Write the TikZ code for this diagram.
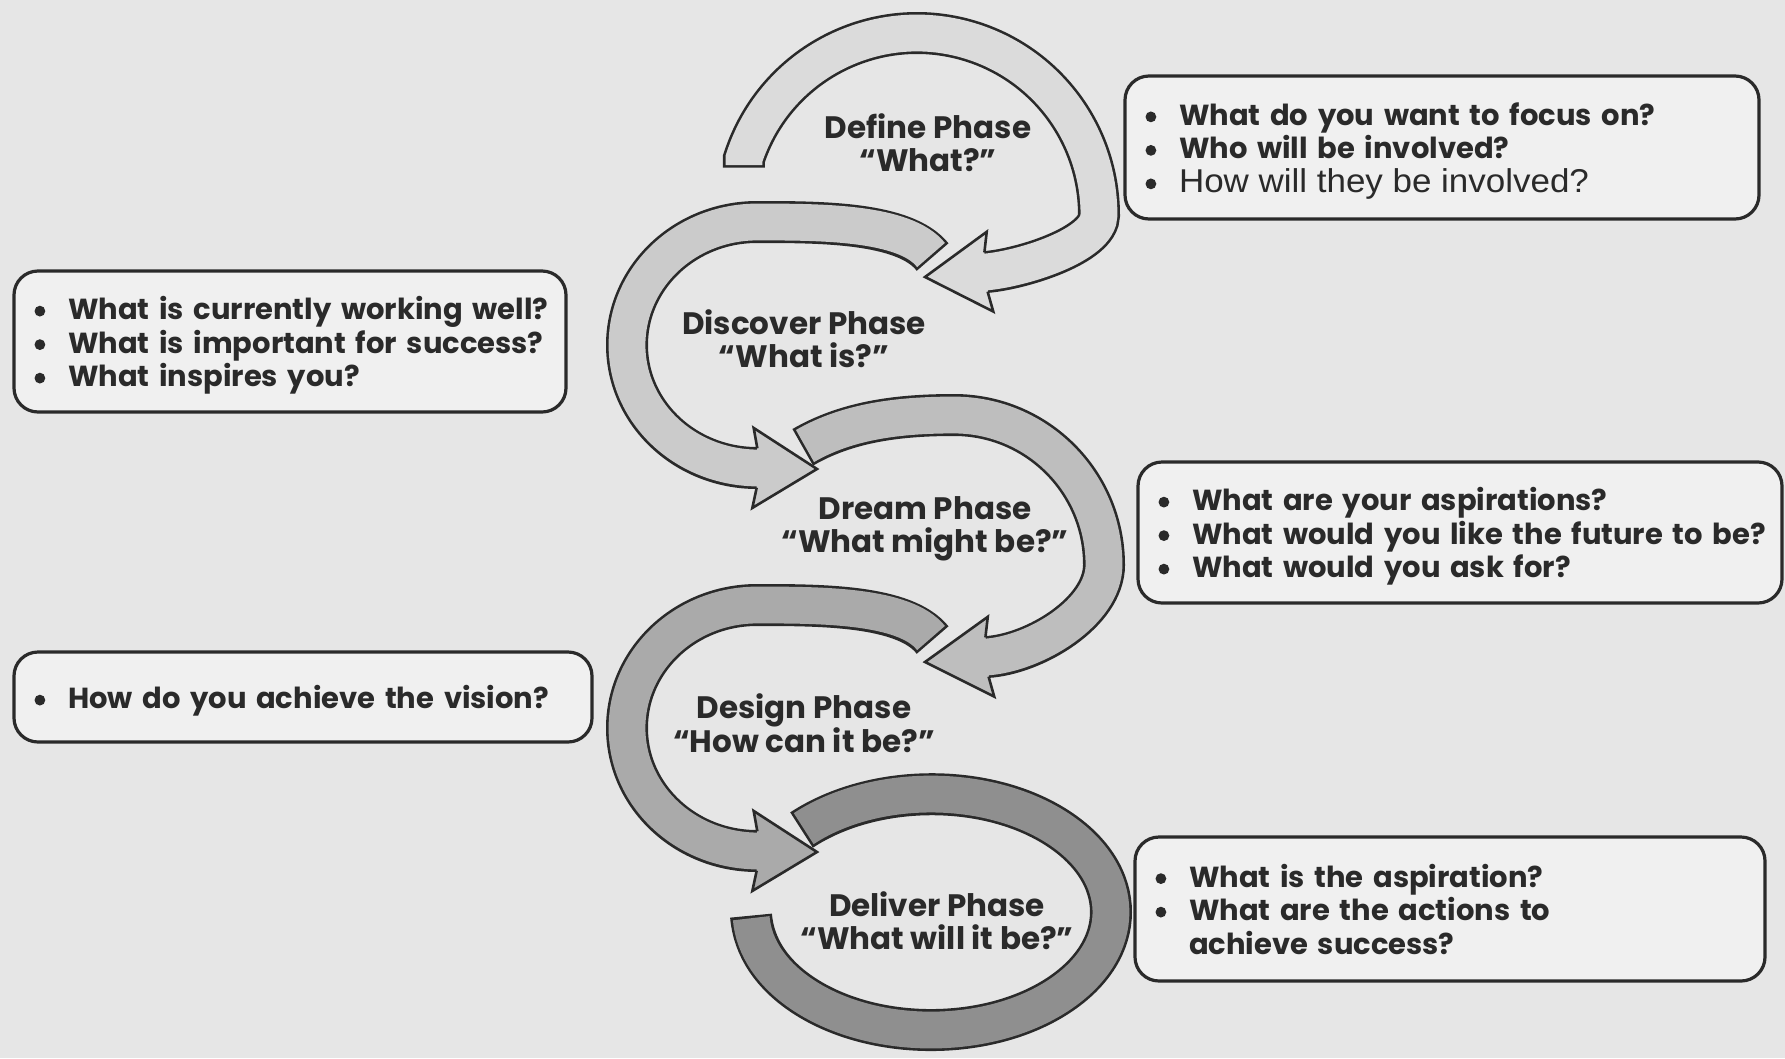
\documentclass[tikz,border=0pt]{standalone}
\usepackage{fontspec}
\setmainfont{Poppins}
\newfontfamily\plainsans[FakeStretch=1.06]{Liberation Sans}
\usetikzlibrary{calc}

\definecolor{paper}{HTML}{E6E6E6}
\definecolor{boxfill}{HTML}{F0F0F0}
\definecolor{ink}{HTML}{2A2A2A}
\definecolor{defineband}{HTML}{DBDBDB}
\definecolor{discoverband}{HTML}{CBCBCB}
\definecolor{dreamband}{HTML}{BEBEBE}
\definecolor{designband}{HTML}{AAAAAA}
\definecolor{deliverband}{HTML}{8F8F8F}

\newcommand\qfont{\fontsize{29}{33.5}\selectfont\bfseries}
\newcommand\pfont{\fontsize{31}{33}\selectfont\bfseries}
% round bullet dot, centred on the x-height
\newcommand\qdot{\tikz[baseline=-8.5pt]\fill[ink] (0,0) circle[radius=5.4pt];}
% one bulleted line, kept on a single line, descenders not counted
\newcommand\ql[1]{\raisebox{0pt}[\height][0pt]{\mbox{\makebox[34pt][l]{\hspace*{0.5pt}\qdot}#1}}}
% continuation line, indented under the text of the line above
\newcommand\qc[1]{\raisebox{0pt}[\height][0pt]{\mbox{\hspace*{34pt}#1}}}

% band of a phase arrow: dark rim first, grey core on top
% #1 core colour, #2 rim options, #3 core options, #4 centre line
\newcommand\phaseband[4]{%
  \draw[ink, line width=42pt, #2] #4;
  \draw[#1, line width=36.8pt, #3] #4;
}
% head of a phase arrow
% #1 name prefix, #2 colour, #3 base (end of the band), #4 tip
\newcommand\phasehead[4]{%
  \coordinate (#1-e1) at ($(#3)!19.7pt!90:(#4)$);
  \coordinate (#1-e2) at ($(#3)!19.7pt!-90:(#4)$);
  \coordinate (#1-k) at ($(#3)!-4pt!(#4)$);
  \coordinate (#1-b1) at ($(#1-k)!40pt!90:(#4)$);
  \coordinate (#1-b2) at ($(#1-k)!40pt!-90:(#4)$);
  \fill[#2] (#1-e1) -- (#1-b1) -- (#4) -- (#1-b2) -- (#1-e2) -- cycle;
  \draw[ink, line width=2.6pt, line join=miter]
    (#1-e1) -- (#1-b1) -- (#4) -- (#1-b2) -- (#1-e2);
}

\tikzset{
  qbox/.style={draw=ink, line width=3.2pt, rounded corners=24pt, fill=boxfill,
    anchor=north west, outer sep=0pt, inner xsep=20pt, inner ysep=0pt,
    align=left, font=\qfont, text=ink},
  phase/.style={align=center, font=\pfont, text=ink, inner sep=0pt},
}

\begin{document}
\begin{tikzpicture}[x=1pt, y=-1pt]
\useasboundingbox (0,0) rectangle (1785,1058);
\fill[paper] (0,0) rectangle (1785,1058);

% ---- Define arrow (tail cut level, then round the top)
\coordinate (defS) at (743.9,165);
\coordinate (defB) at (986,272);
\coordinate (defT) at (925,277);
\phaseband{defineband}{shorten <=-2.6pt}{shorten >=-1.5pt}
  {(defS) -- (743.9,158.8) arc[start angle=198, end angle=360, radius=182]
   .. controls (1099,245) and (1022,269) .. (defB)}
\phasehead{defh}{defineband}{defB}{defT}

% ---- Discover arrow
\coordinate (disS) at (931,255);
\coordinate (disB) at (757,468);
\coordinate (disT) at (817,469);
\phaseband{discoverband}{shorten <=-2.6pt}{shorten >=-1.5pt}
  {(disS) .. controls (905,222) and (820,222) .. (757,222)
   arc[start angle=270, end angle=90, x radius=130, y radius=123]}
\phasehead{dish}{discoverband}{disB}{disT}

% ---- Dream arrow
\coordinate (drmS) at (805,446);
\coordinate (drmB) at (987,657);
\coordinate (drmT) at (925,662);
\phaseband{dreamband}{shorten <=-2.6pt}{shorten >=-1.5pt}
  {(drmS) .. controls (848,421) and (900,415) .. (954,415)
   arc[start angle=270, end angle=360, radius=150]
   .. controls (1104,612) and (1035,654) .. (drmB)}
\phasehead{drmh}{dreamband}{drmB}{drmT}

% ---- Design arrow
\coordinate (desS) at (931,638);
\coordinate (desB) at (757,851);
\coordinate (desT) at (817,852);
\phaseband{designband}{shorten <=-2.6pt}{shorten >=-1.5pt}
  {(desS) .. controls (905,605) and (820,605) .. (757,605)
   arc[start angle=270, end angle=90, x radius=130, y radius=123]}
\phasehead{desh}{designband}{desB}{desT}

% ---- Deliver ring
\coordinate (delS) at (803.7,828.6);
\phaseband{deliverband}{shorten <=-2.6pt, shorten >=-2.6pt}{}
  {(delS) arc[start angle=225, end angle=537, x radius=180, y radius=118]}

% ---- phase labels
\node[phase] (define)   at (928,142.5) {Define Phase\\“What?”};
\node[phase] (discover) at (804,338.5) {Discover Phase\\“What is?”};
\node[phase] (dream)    at (925,528.5) {Dream Phase\\“What might be?”};
\node[phase] (design)   at (804,723.5) {Design Phase\\“How can it be?”};
\node[phase] (deliver)  at (937,920.5) {Deliver Phase\\“What will it be?”};

% ---- question boxes
\node[qbox, minimum width=634pt, minimum height=143pt, text width=594pt]
  (defineq) at (1125,76) {%
  \ql{What do you want to focus on?}\\
  \ql{Who will be involved?}\\
  {\plainsans\mdseries\fontsize{33}{33.5}\selectfont\ql{How will they be involved?}}};

\node[qbox, minimum width=552pt, minimum height=141pt, text width=512pt]
  (discoverq) at (14,271) {%
  \ql{What is currently working well?}\\
  \ql{What is important for success?}\\
  \ql{What inspires you?}};

\node[qbox, minimum width=644pt, minimum height=141pt, text width=604pt]
  (dreamq) at (1138,462) {%
  \ql{What are your aspirations?}\\
  \ql{What would you like the future to be?}\\
  \ql{What would you ask for?}};

\node[qbox, minimum width=578pt, minimum height=90pt, text width=538pt]
  (designq) at (14,652) {%
  \ql{How do you achieve the vision?}};

\node[qbox, minimum width=630pt, minimum height=144pt, text width=590pt]
  (deliverq) at (1135,837) {%
  \ql{What is the aspiration?}\\
  \ql{What are the actions to}\\
  \qc{achieve success?}};
\end{tikzpicture}
\end{document}
